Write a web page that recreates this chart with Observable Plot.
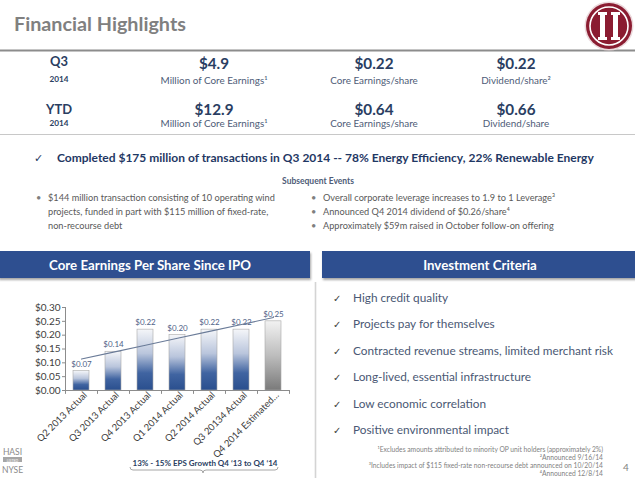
<!DOCTYPE html>
<html><head><meta charset="utf-8">
<script src="https://cdn.jsdelivr.net/npm/d3@7"></script>
<script src="https://cdn.jsdelivr.net/npm/@observablehq/plot@0.6"></script>
<style>
html,body{margin:0;padding:0;background:#fff;}
#slide{position:relative;width:635px;height:478px;overflow:hidden;font-family:Lato,"Open Sans",sans-serif;}
#deco{position:absolute;left:0;top:0;}
#chart{position:absolute;left:0;top:295px;}
</style></head><body>
<div id="slide">
<svg id="deco" width="635" height="478" xmlns="http://www.w3.org/2000/svg">
  <defs>
    <linearGradient id="gBlue" x1="0" y1="0" x2="0" y2="1">
      <stop offset="0" stop-color="#F5F6F9"/>
      <stop offset="0.4" stop-color="#B9C5DC"/>
      <stop offset="0.72" stop-color="#4064A1"/>
      <stop offset="1" stop-color="#2A4F8E"/>
    </linearGradient>
    <linearGradient id="gGray" x1="0" y1="0" x2="0" y2="1">
      <stop offset="0" stop-color="#F2F2F2"/>
      <stop offset="0.5" stop-color="#BDBDBD"/>
      <stop offset="1" stop-color="#7A7A7A"/>
    </linearGradient>
    <filter id="shadow" x="-5%" y="-30%" width="110%" height="170%">
      <feDropShadow dx="1" dy="2" stdDeviation="1.3" flood-color="#000" flood-opacity="0.35"/>
    </filter>
  </defs>
  <line x1="0" x2="635" y1="50.5" y2="50.5" stroke="#8C8C8C" stroke-width="2"/>
  <line x1="0" x2="635" y1="134.5" y2="134.5" stroke="#C8C8C8" stroke-width="1.2"/>
  <g transform="translate(609,26)">
    <circle r="24.5" fill="#EBD9DC"/>
    <circle r="23" fill="#8B1C31"/>
    <circle r="19" fill="none" stroke="#fff" stroke-width="1.6"/>
    <path d="M-11,-14 h9 v3 h-2 v22 h2 v3 h-9 v-3 h2 v-22 h-2z" fill="#fff"/>
    <path d="M2,-14 h9 v3 h-2 v22 h2 v3 h-9 v-3 h2 v-22 h-2z" fill="#fff"/>
  </g>
  <rect x="-2" y="251" width="312" height="27" fill="#2E5090" filter="url(#shadow)"/>
  <rect x="322" y="251" width="316" height="27" fill="#2E5090" filter="url(#shadow)"/>
  <line x1="315.5" x2="315.5" y1="282" y2="478" stroke="#D4D4D4" stroke-width="1.6"/>
  <rect x="3" y="457" width="19" height="5" fill="#A6A6A6"/>
  <path d="M130,467 q0,3 3,3 H200 q3,0 3,3 q0,-3 3,-3 H275 q3,0 3,-3" stroke="#A6A6A6" stroke-width="1" fill="none"/>
</svg>
<div id="chart"></div>
</div>
<script>
// ---------- chart data ----------
const quarters = ["Q2 2013 Actual","Q3 2013 Actual","Q4 2013 Actual","Q1 2014 Actual","Q2 2014 Actual","Q3 20134 Actual","Q4 2014 Estimated…"];
const eps = [0.07, 0.14, 0.22, 0.20, 0.22, 0.22, 0.25];
const kinds = ["Actual","Actual","Actual","Actual","Actual","Actual","Estimated"];
const epsLabels = ["$0.07","$0.14","$0.22","$0.20","$0.22","$0.22","$0.25"];
const yTicks = [0, 0.05, 0.10, 0.15, 0.20, 0.25, 0.30];

// ---------- slide text ----------
const slideTitle = "Financial Highlights";
const periodLabels = ["Q3", "YTD"];
const periodYears = ["2014", "2014"];
const highlightValues = [["$4.9", "$0.22", "$0.22"], ["$12.9", "$0.64", "$0.66"]];
const highlightCaptions = [["Million of Core Earnings¹", "Core Earnings/share", "Dividend/share²"],
                           ["Million of Core Earnings¹", "Core Earnings/share", "Dividend/share"]];
const mainPoint = "Completed $175 million of transactions in Q3 2014 -- 78% Energy Efficiency, 22% Renewable Energy";
const eventsTitle = "Subsequent Events";
const eventsLeft = ["$144 million transaction consisting of 10 operating wind", "projects, funded in part with $115 million of fixed-rate,", "non-recourse debt"];
const eventsRight = ["Overall corporate leverage increases to 1.9 to 1 Leverage³", "Announced Q4 2014 dividend of $0.26/share⁴", "Approximately $59m raised in October follow-on offering"];
const leftHeader = "Core Earnings Per Share Since IPO";
const rightHeader = "Investment Criteria";
const criteria = ["High credit quality", "Projects pay for themselves", "Contracted revenue streams, limited merchant risk", "Long-lived, essential infrastructure", "Low economic correlation", "Positive environmental impact"];
const footnotes = ["¹Excludes amounts attributed to minority OP unit holders (approximately 2%)", "²Announced 9/16/14", "³Includes impact of $115 fixed-rate non-recourse debt announced on 10/20/14", "⁴Announced 12/8/14"];
const growthNote = "13% - 15% EPS Growth Q4 ‘13 to Q4 ‘14";
const pageNumber = "4";

// ---------- text helpers ----------
const NS = "http://www.w3.org/2000/svg";
const deco = document.getElementById("deco");
const FONT = "Lato, 'Open Sans', sans-serif";
function T(str, x, y, o = {}) {
  const t = document.createElementNS(NS, "text");
  t.setAttribute("x", x); t.setAttribute("y", y);
  t.setAttribute("text-anchor", o.anchor || "start");
  t.setAttribute("font-family", o.family || FONT);
  t.setAttribute("font-weight", o.weight || "normal");
  t.setAttribute("fill", o.fill || "#000");
  t.setAttribute("font-size", o.size || 10);
  t.textContent = str;
  deco.appendChild(t);
  if (o.w) {
    const len = t.getComputedTextLength();
    if (len > 0) t.setAttribute("font-size", (o.size || 10) * o.w / len);
  }
  return t;
}
function fit(str, w, weight, size = 10) {
  const t = T(str, -999, -999, {weight, size});
  const len = t.getComputedTextLength();
  t.remove();
  return len > 0 ? size * w / len : size;
}

const NAVY = "#2A3E62", SLATE = "#4E5C77", GRAY = "#595959";

T(slideTitle, 14, 31, {weight: "bold", fill: "#808080", size: 22, w: 172});

// highlight rows
const labelSize = fit("YTD", 26, "bold");
const yearSize = fit("2014", 19, "bold");
const valSize = fit("$0.22", 39, "bold");
const capSize = fit("Million of Core Earnings¹", 107, "normal");
const colX = [214, 374, 516];
const rowVal = [69, 115], rowCap = [84, 127], rowLab = [66, 114], rowYear = [82, 126];
periodLabels.forEach((p, r) => {
  T(p, 59, rowLab[r], {anchor: "middle", weight: "bold", fill: NAVY, size: labelSize});
  T(periodYears[r], 59, rowYear[r], {anchor: "middle", weight: "bold", fill: NAVY, size: yearSize});
  highlightValues[r].forEach((v, c) => {
    T(v, colX[c], rowVal[r], {anchor: "middle", weight: "bold", fill: NAVY, size: valSize});
    T(highlightCaptions[r][c], colX[c], rowCap[r], {anchor: "middle", fill: SLATE, size: capSize});
  });
});

// main point
T("✓", 34, 162, {family: "DejaVu Sans", fill: "#1F3864", size: 11});
T(mainPoint, 57, 162, {weight: "bold", fill: "#1F3864", size: 12, w: 537});
T(eventsTitle, 318, 184, {anchor: "middle", weight: "bold", fill: SLATE, size: 10, w: 72});
const evSize = fit(eventsLeft[0], 227, "normal");
eventsLeft.forEach((s, i) => T(s, 48, 201 + 14 * i, {fill: GRAY, size: evSize}));
eventsRight.forEach((s, i) => T(s, 323, 201 + 14 * i, {fill: GRAY, size: evSize}));
T("•", 36, 201, {fill: "#7F7F7F", size: evSize});
[0, 1, 2].forEach(i => T("•", 311, 201 + 14 * i, {fill: "#7F7F7F", size: evSize}));

// panel headers
const hSize = fit(leftHeader, 202, "bold");
T(leftHeader, 150, 270, {anchor: "middle", weight: "bold", fill: "#fff", size: hSize});
T(rightHeader, 480, 270, {anchor: "middle", weight: "bold", fill: "#fff", size: hSize});

// criteria list
const crSize = fit(criteria[2], 260, "normal");
criteria.forEach((s, i) => {
  const y = 302 + 26.4 * i;
  T("✓", 333, y, {family: "DejaVu Sans", fill: "#404040", size: 10});
  T(s, 353, y, {fill: "#4A5874", size: crSize});
});

// footnotes
const fnSize = fit(footnotes[0], 226, "normal");
footnotes.forEach((s, i) => T(s, 603, 452 + 8 * i, {anchor: "end", fill: "#7F7F7F", size: fnSize}));
T(pageNumber, 626, 471, {anchor: "middle", fill: "#7F7F7F", size: 10});

// HASI NYSE mark
T("HASI", 12.5, 455, {anchor: "middle", fill: "#8A8A8A", size: 8.5});
T("LISTED", 12.5, 461.5, {anchor: "middle", fill: "#fff", size: 3.5});
T("NYSE", 12.5, 473, {anchor: "middle", fill: "#8A8A8A", size: 8.5});

// growth note
T(growthNote, 205, 466, {anchor: "middle", weight: "bold", fill: NAVY, size: 8.5, w: 145});

// ---------- chart ----------
const table = quarters.map((q, i) => ({q, v: eps[i], kind: kinds[i], label: epsLabels[i], i}));
// least-squares trendline through the bar values
const mx = d3.mean(table, d => d.i), my = d3.mean(eps);
const slope = d3.sum(table, d => (d.i - mx) * (d.v - my)) / d3.sum(table, d => (d.i - mx) ** 2);
const trend = table.map(d => ({q: d.q, t: my + slope * (d.i - mx)}));

const chart = Plot.plot({
  width: 300, height: 165,
  marginTop: 12, marginBottom: 70, marginLeft: 65, marginRight: 11,
  style: {fontFamily: FONT, background: "transparent", overflow: "visible"},
  x: {domain: quarters, paddingInner: 0.5, paddingOuter: 0.25, label: null},
  y: {domain: [0, 0.30], label: null},
  marks: [
    Plot.barY(table, {filter: d => d.kind === "Actual", x: "q", y: "v", fill: "url(#gBlue)", stroke: "#A9A9A9", strokeWidth: 0.6}),
    Plot.barY(table, {filter: d => d.kind !== "Actual", x: "q", y: "v", fill: "url(#gGray)", stroke: "#A9A9A9", strokeWidth: 0.6}),
    Plot.ruleY([0], {stroke: "#8C8C8C"}),
    Plot.ruleX([quarters[0]], {y1: 0, y2: 0.30, dx: -16, stroke: "#8C8C8C"}),
    Plot.ruleX([quarters[0]], {y1: 0, y2: -0.014, dx: -16, stroke: "#8C8C8C"}),
    Plot.ruleX(quarters, {x: d => d, y1: 0, y2: -0.014, dx: 16, stroke: "#8C8C8C"}),
    Plot.axisY({ticks: yTicks, tickFormat: d => "$" + d.toFixed(2), tickSize: 3, tickPadding: 2, fontSize: 10, color: "#404040", stroke: "#8C8C8C"}),
    Plot.axisX({tickSize: 0, tickRotate: -45, tickPadding: 3, dx: 4, fontSize: 9.5, color: "#404040"}),
    Plot.text(table, {x: "q", y: "v", text: "label", dy: -7, fill: "#4F6287", fontSize: 8}),
    Plot.line(trend, {x: "q", y: "t", stroke: "#6A7B98", strokeWidth: 1.1})
  ]
});
document.getElementById("chart").appendChild(chart);
</script>
</body></html>
